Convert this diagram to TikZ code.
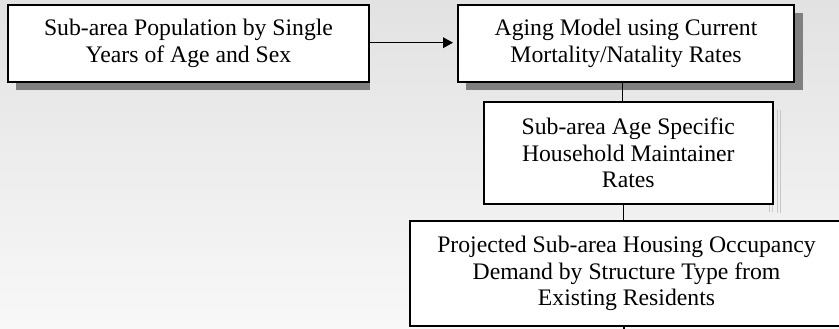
\documentclass[tikz,border=0pt]{standalone}
\usepackage{fontspec}
\setmainfont{Liberation Serif}
\usetikzlibrary{arrows.meta}
\definecolor{bgtop}{RGB}{226,226,226}
\definecolor{bgmid}{RGB}{232,232,232}
\definecolor{bgbot}{RGB}{248,248,248}
\definecolor{shadowgray}{RGB}{128,128,128}
\definecolor{ghost}{RGB}{200,200,200}
\begin{document}
\begin{tikzpicture}[x=1pt,y=-1pt,
  box/.style={draw=black, line width=1.9pt, fill=white, inner sep=0pt, align=center,
    font=\fontsize{23.7}{26.7}\selectfont},
  shadowbox/.style={fill=shadowgray},
  link/.style={draw=black, line width=1.6pt},
  ghostline/.style={draw=ghost, line width=0.8pt}]
\useasboundingbox (0,0) rectangle (839,329);
\shade[top color=bgtop, middle color=bgmid, bottom color=bgbot] (0,0) rectangle (839,329);
\begin{scope}
\clip (0,0) rectangle (839,329);
% shadows
\fill[shadowbox] (16,13) rectangle (370,90);
\fill[shadowbox] (466,13) rectangle (803,90);
% ghost lines near box 3
\draw[ghostline] (777,110) -- (777,213);
\draw[ghostline] (780,110) -- (780,213);
\draw[ghostline] (769,204) -- (769,212);
\draw[ghostline] (772,204) -- (772,212);
% boxes
\node[box, minimum width=361pt, minimum height=77pt] (b1) at (188.5,43.5)
  {Sub-area Population by Single\\Years of Age and Sex};
\node[box, minimum width=336pt, minimum height=77pt] (b2) at (626,43.5)
  {Aging Model using Current\\Mortality/Natality Rates};
\node[box, minimum width=288.7pt, minimum height=102pt] (b3) at (628.3,153)
  {Sub-area Age Specific\\Household Maintainer\\Rates};
\node[box, minimum width=433pt, minimum height=105pt] (b4) at (626.5,273.5)
  {Projected Sub-area Housing Occupancy\\Demand by Structure Type from\\Existing Residents};
% connectors
\coordinate (c1) at (622.5,0);
\coordinate (c2) at (623.5,0);
\coordinate (c3) at (624,0);
\coordinate (bottomend) at (624,332);
\draw[link, -{Triangle[length=10pt,width=10.5pt]}, shorten >=4pt] (b1.east |- 0,42.7) -- (b2.west |- 0,42.7);
\draw[link] (b2.south -| c1) -- (b3.north -| c1);
\draw[link] (b3.south -| c2) -- (b4.north -| c2);
\draw[link] (b4.south -| c3) -- (bottomend);
\end{scope}
\end{tikzpicture}
\end{document}
